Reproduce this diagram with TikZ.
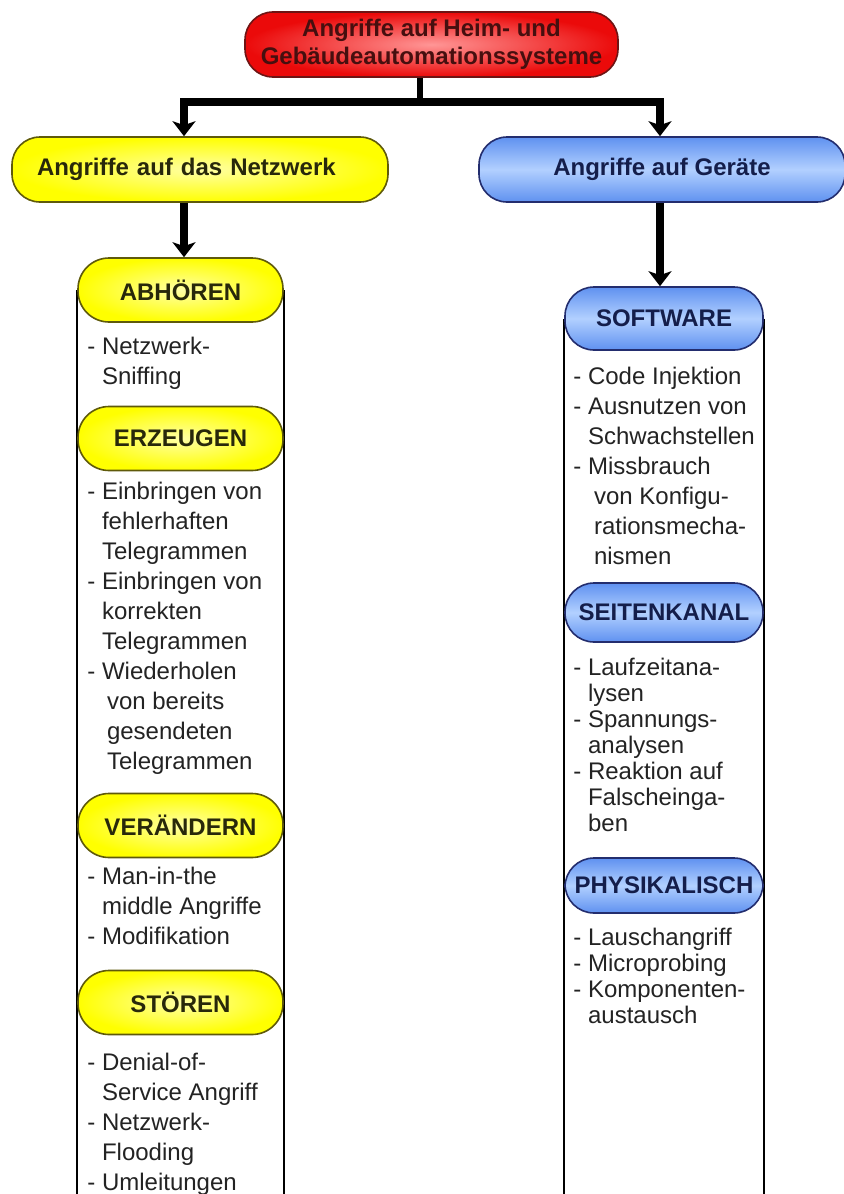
\documentclass[tikz,border=0pt]{standalone}
\usepackage{fontspec}
\setmainfont{Liberation Sans}
\usetikzlibrary{
    arrows.meta,
    backgrounds
}
\definecolor{ink}{RGB}{35,35,35}
\definecolor{rootfill}{RGB}{235,10,10}
\definecolor{rootglow}{RGB}{255,150,150}
\definecolor{rootedge}{RGB}{110,20,20}
\definecolor{roottext}{RGB}{70,15,15}
\definecolor{netzfill}{RGB}{255,255,0}
\definecolor{netzglow}{RGB}{255,255,165}
\definecolor{netzedge}{RGB}{95,90,10}
\definecolor{netztext}{RGB}{40,40,10}
\definecolor{geraettop}{RGB}{95,145,240}
\definecolor{geraetmid}{RGB}{178,208,255}
\definecolor{geraetedge}{RGB}{35,45,110}
\definecolor{geraettext}{RGB}{20,30,75}
\newcommand{\gap}{\hphantom{-\ }}
\tikzset{
    base box/.style={
        rectangle,
        rounded corners=14pt,
        line width=0.8pt,
        align=center,
        inner sep=0pt,
        font=\fontsize{12}{14}\selectfont\bfseries
    },
    rootbox/.style={
        base box,
        draw=rootedge,
        inner color=rootglow,
        outer color=rootfill,
        text=roottext,
        minimum width=186.5pt,
        minimum height=32.5pt
    },
    netzbox/.style={
        base box,
        draw=netzedge,
        inner color=netzglow,
        outer color=netzfill,
        text=netztext
    },
    geraetbox/.style={
        base box,
        draw=geraetedge,
        top color=geraettop,
        bottom color=geraettop,
        middle color=geraetmid,
        text=geraettext
    },
    netzsub/.style={
        netzbox,
        rounded corners=15.5pt,
        minimum width=102.5pt,
        minimum height=32pt
    },
    geraetsub/.style={
        geraetbox,
        rounded corners=14.5pt,
        minimum width=99pt,
        minimum height=31.5pt
    },
    itemlist/.style={
        anchor=north west,
        align=left,
        inner sep=0pt,
        text=ink,
        font=\fontsize{12}{15}\selectfont
    },
    tightlist/.style={
        itemlist,
        font=\fontsize{12}{13}\selectfont
    },
    branch/.style={
        -{Stealth[length=7.5pt, width=11.5pt, inset=2pt]},
        draw=black,
        line width=4pt,
        line join=miter
    },
    stem/.style={
        draw=black,
        line width=3pt
    },
    frame/.style={
        draw=black,
        line width=1pt
    }
}

\begin{document}
\begin{tikzpicture}[x=0.5pt, y=-0.5pt]

\useasboundingbox (0,0) rectangle (844,1194);

% Root and the two main branches
\node[rootbox] (root) at (431.5,44.5) {Angriffe auf Heim- und\\Gebäudeautomationssysteme};
\node[netzbox, align=left, text width=163pt, inner xsep=12.5pt, minimum height=32.5pt]
    (netz) at (200,169.5) {Angriffe auf das Netzwerk};
\node[geraetbox, minimum width=183pt, minimum height=32.5pt]
    (ger) at (662,169.5) {Angriffe auf Geräte};

\coordinate (split) at (420,102);
\coordinate (jl) at (184,102);
\coordinate (jr) at (660,102);
\coordinate (floor) at (0,1194);

\draw[stem] (split |- root.south) -- (split);
\draw[branch] (split) -- (jl) -- (jl |- netz.north);
\draw[branch] (split) -- (jr) -- (jr |- ger.north);

% === LEFT COLUMN: Netzwerk ===
\node[netzsub] (abh) at (180.5,290) {ABHÖREN};
\node[itemlist] (abhList) at (87,337) {%
    - Netzwerk-\\
    \gap Sniffing};

\node[netzsub] (erz) at (180.5,438.5) {ERZEUGEN};
\node[itemlist] (erzList) at (87,482) {%
    - Einbringen von\\
    \gap fehlerhaften\\
    \gap Telegrammen\\
    - Einbringen von\\
    \gap korrekten\\
    \gap Telegrammen\\
    - Wiederholen\\
    \gap\hspace{2.5pt}von bereits\\
    \gap\hspace{2.5pt}gesendeten\\
    \gap\hspace{2.5pt}Telegrammen};

\node[netzsub] (ver) at (180.5,825.5) {VERÄNDERN};
\node[itemlist] (verList) at (87,867) {%
    - Man-in-the\\
    \gap middle Angriffe\\
    - Modifikation};

\node[netzsub] (sto) at (180.5,1002.5) {STÖREN};
\node[itemlist] (stoList) at (87,1053) {%
    - Denial-of-\\
    \gap Service Angriff\\
    - Netzwerk-\\
    \gap Flooding\\
    - Umleitungen};

\draw[branch] (jl |- netz.south) -- (jl |- abh.north);

% === RIGHT COLUMN: Geräte ===
\node[geraetsub] (soft) at (664,318.5) {SOFTWARE};
\node[itemlist] (softList) at (573,367) {%
    - Code Injektion\\
    - Ausnutzen von\\
    \gap Schwachstellen\\
    - Missbrauch\\
    \gap\hspace{3pt}von Konfigu-\\
    \gap\hspace{3pt}rationsmecha-\\
    \gap\hspace{3pt}nismen};

\node[geraetsub, minimum height=29.5pt] (seit) at (664,612.5) {SEITENKANAL};
\node[tightlist] (seitList) at (573,658) {%
    - Laufzeitana-\\
    \gap lysen\\
    - Spannungs-\\
    \gap analysen\\
    - Reaktion auf\\
    \gap Falscheinga-\\
    \gap ben};

\node[geraetsub, minimum height=27.5pt] (phys) at (664,885.5) {PHYSIKALISCH};
\node[tightlist] (physList) at (573,928) {%
    - Lauschangriff\\
    - Microprobing\\
    - Komponenten-\\
    \gap austausch};

\draw[branch] (jr |- ger.south) -- (jr |- soft.north);

% White page and column frames behind the boxes
\begin{scope}[on background layer]
    \fill[white] (0,0) rectangle (844,1194);
    \draw[frame] (abh.west) -- (abh.west |- floor);
    \draw[frame] (abh.east) -- (abh.east |- floor);
    \draw[frame] (soft.west) -- (soft.west |- floor);
    \draw[frame] (soft.east) -- (soft.east |- floor);
\end{scope}

\end{tikzpicture}
\end{document}
